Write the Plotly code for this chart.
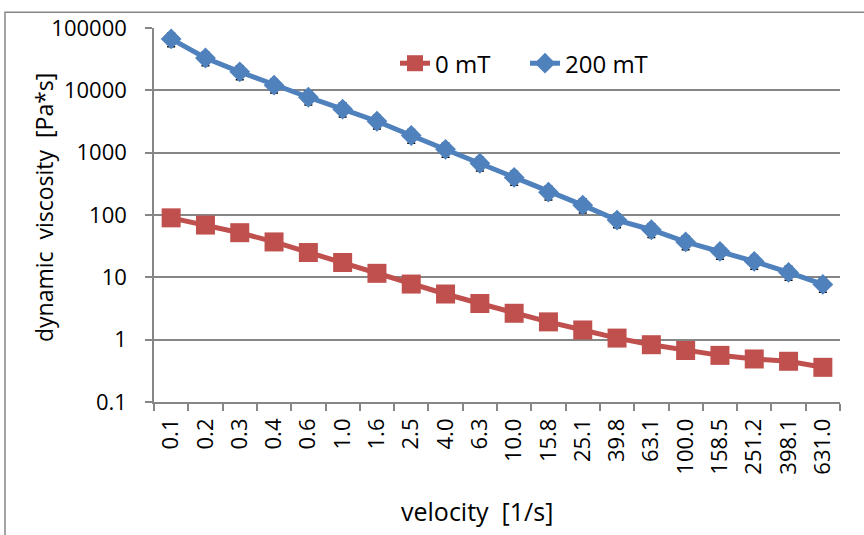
import plotly.graph_objects as go

velocity_labels = ["0.1", "0.2", "0.3", "0.4", "0.6", "1.0", "1.6", "2.5", "4.0", "6.3",
                   "10.0", "15.8", "25.1", "39.8", "63.1", "100.0", "158.5", "251.2", "398.1", "631.0"]
visc_0mT = [90, 69, 52, 37, 25, 17.3, 11.6, 7.8, 5.4, 3.8,
            2.65, 1.93, 1.43, 1.06, 0.83, 0.67, 0.56, 0.49, 0.45, 0.36]
visc_200mT = [66800, 33000, 19800, 12100, 7740, 4990, 3190, 1885, 1130, 676,
              401, 232, 144, 83, 58, 37, 26, 18, 12, 7.7]
err_pct_200mT = 25
y_tick_vals = [0.1, 1, 10, 100, 1000, 10000, 100000]
y_tick_text = ["0.1", "1", "10", "100", "1000", "10000", "100000"]

FONT = "Open Sans"
GRID = "#868686"
RED = "#C0504D"
BLUE = "#4F81BD"
NB = "\u00a0"

fig = go.Figure()
fig.add_trace(go.Scatter(
    x=velocity_labels, y=visc_0mT, name="0 mT", mode="lines+markers",
    line=dict(color=RED, width=5),
    marker=dict(symbol="square", size=19, color=RED),
))
fig.add_trace(go.Scatter(
    x=velocity_labels, y=visc_200mT, name="200 mT", mode="lines+markers",
    line=dict(color=BLUE, width=5),
    marker=dict(symbol="diamond", size=16, color=BLUE),
    error_y=dict(type="percent", value=err_pct_200mT, color="black", thickness=1.5, width=4),
))

W, H = 864, 535
L, R, T, B = 154, 24, 24, 133
pw, ph = W - L - R, H - T - B

def px_x(p):
    return (p - L) / pw

def px_y(p):
    return (H - B - p) / ph

fig.update_layout(
    width=W, height=H,
    margin=dict(l=L, r=R, t=T, b=B),
    paper_bgcolor="white", plot_bgcolor="white",
    font=dict(family=FONT, size=22, color="black"),
    showlegend=True,
    legend=dict(orientation="h", x=px_x(395), y=px_y(60), xanchor="left", yanchor="middle",
                font=dict(family=FONT, size=24), bgcolor="rgba(0,0,0,0)",
                entrywidth=85, entrywidthmode="pixels", tracegroupgap=0),
    xaxis=dict(
        type="category", range=[-0.5, 19.5],
        tickangle=-90, tickson="boundaries", ticks="outside", ticklen=7,
        tickcolor=GRID, tickwidth=1.5, ticklabelstandoff=6,
        showline=True, linecolor=GRID, linewidth=1.5,
        showgrid=False, tickfont=dict(family=FONT, size=22),
    ),
    yaxis=dict(
        type="log", range=[-1, 5],
        tickvals=y_tick_vals, ticktext=y_tick_text,
        ticks="outside", ticklen=7, tickcolor=GRID, tickwidth=1.5,
        ticklabelstandoff=14,
        showline=True, linecolor=GRID, linewidth=1.5,
        showgrid=True, gridcolor=GRID, gridwidth=1.5,
        tickfont=dict(family=FONT, size=22), zeroline=False,
    ),
    annotations=[
        dict(text=f"dynamic{NB}{NB}viscosity{NB}{NB}[Pa*s]", xref="paper", yref="paper",
             x=px_x(44), y=px_y(206), textangle=-90, showarrow=False,
             xanchor="center", yanchor="middle", font=dict(family=FONT, size=23)),
        dict(text=f"velocity{NB}{NB}[1/s]", xref="paper", yref="paper",
             x=px_x(477), y=px_y(512), showarrow=False,
             xanchor="center", yanchor="middle", font=dict(family=FONT, size=25)),
    ],
    shapes=[
        dict(type="rect", xref="paper", yref="paper",
             x0=px_x(5), x1=px_x(900), y0=px_y(560), y1=px_y(8),
             line=dict(color=GRID, width=1.5), fillcolor="rgba(0,0,0,0)", layer="below"),
    ],
)

fig.write_html("out.html", config={"displayModeBar": False},
               post_script="document.body.style.margin='0';document.body.style.overflow='hidden';")
